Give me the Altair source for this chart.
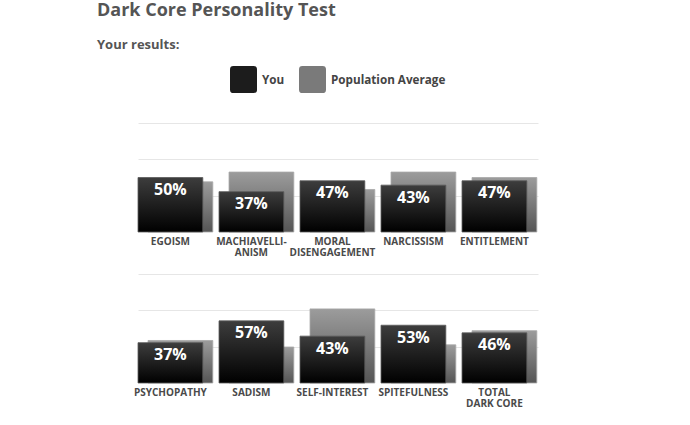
import altair as alt
import pandas as pd

# ---- data ----
cats_top = ["EGOISM", "MACHIAVELLI-|ANISM", "MORAL|DISENGAGEMENT", "NARCISSISM", "ENTITLEMENT"]
you_top = [50, 37, 47, 43, 47]
pop_top = [46, 55, 39, 55, 50]

cats_bot = ["PSYCHOPATHY", "SADISM", "SELF-INTEREST", "SPITEFULNESS", "TOTAL|DARK CORE"]
you_bot = [37, 57, 43, 53, 46]
pop_bot = [39, 33, 68, 35, 48]

series = ["You", "Population Average"]
grid_ticks = [100 / 3, 200 / 3, 100]

FONT = "Open Sans"

grad_you = alt.Gradient(gradient="linear", x1=0, y1=0, x2=0, y2=1,
                        stops=[alt.GradientStop(offset=0, color="#3d3d3d"),
                               alt.GradientStop(offset=1, color="#000000")])
grad_pop = alt.Gradient(gradient="linear", x1=0, y1=0, x2=0, y2=1,
                        stops=[alt.GradientStop(offset=0, color="#9c9c9c"),
                               alt.GradientStop(offset=1, color="#555555")])

ROUNDED = "M-1,-0.75 Q-1,-1 -0.75,-1 L0.75,-1 Q1,-1 1,-0.75 L1,0.75 Q1,1 0.75,1 L-0.75,1 Q-1,1 -1,0.75 Z"


def panel(cats, you, pop, with_legend):
    df = pd.DataFrame({"cat": cats, "you": you, "pop": pop})
    df["label"] = [f"{v}%" for v in you]

    x = alt.X("cat:N", sort=cats, title=None,
              scale=alt.Scale(paddingInner=0.2, paddingOuter=0.069, align=0),
              axis=alt.Axis(labelAngle=0, domain=False, ticks=False, labelPadding=4,
                            labelFont=FONT, labelFontWeight="bold", labelFontSize=10,
                            labelColor="#4a4a4a", labelLineHeight=11,
                            labelExpr="split(datum.value, '|')"))
    yscale = alt.Scale(domain=[0, 100])
    yaxis = alt.Axis(values=grid_ticks, labels=False, ticks=False, domain=False,
                     grid=True, gridColor="#e6e6e6", gridWidth=1, title=None)

    base = alt.Chart(df)
    pop_bar = base.mark_bar(xOffset=10, color=grad_pop, stroke="#a8a8a8", strokeWidth=0.8).encode(
        x=x, y=alt.Y("pop:Q", scale=yscale, axis=yaxis, title=None),
    )
    you_bar = base.mark_bar(color=grad_you, stroke="#5a5a5a", strokeWidth=0.8).encode(
        x=x, y=alt.Y("you:Q", scale=yscale, axis=yaxis, title=None),
    )
    text = base.mark_text(color="white", font=FONT, fontWeight="bold", fontSize=16,
                          baseline="alphabetic", dy=17.5).encode(
        x=x, y=alt.Y("you:Q", scale=yscale, axis=yaxis, title=None), text="label:N",
    )
    layers = [pop_bar, you_bar, text]
    if with_legend:
        long = pd.DataFrame({"cat": cats * 2,
                             "value": list(you) + list(pop),
                             "series": [series[0]] * len(cats) + [series[1]] * len(cats)})
        leg = alt.Chart(long).mark_point(filled=True, size=0).encode(
            x=x,
            y=alt.Y("value:Q", scale=yscale, axis=yaxis, title=None),
            color=alt.Color("series:N", sort=series,
                            scale=alt.Scale(domain=series, range=["#1c1c1c", "#7a7a7a"]),
                            legend=alt.Legend(orient="none", legendX=92, legendY=-57,
                                              direction="horizontal", title=None,
                                              labelFont=FONT, labelFontWeight="bold",
                                              labelFontSize=11.7, labelColor="#444444",
                                              labelOffset=5, columnPadding=14,
                                              symbolSize=729, symbolType=ROUNDED,
                                              symbolStrokeWidth=0, symbolOpacity=1)),
        )
        layers.append(leg)
    return alt.layer(*layers).properties(width=400, height=109)


top = panel(cats_top, you_top, pop_top, True)
bottom = panel(cats_bot, you_bot, pop_bot, False)

chart = alt.vconcat(top, bottom, spacing=17).properties(
    title=alt.TitleParams("Dark Core Personality Test", subtitle="Your results:",
                          anchor="start", frame="group", dx=-41, offset=14,
                          font=FONT, fontSize=18, fontWeight="bold", color="#555555",
                          subtitleFont=FONT, subtitleFontSize=13, subtitleFontWeight="bold",
                          subtitleColor="#555555", subtitlePadding=19),
    padding={"left": 97, "top": 2, "right": 5, "bottom": 5},
).configure_view(stroke=None)

chart.save("out.html", embed_options={"renderer": "svg", "actions": False})
